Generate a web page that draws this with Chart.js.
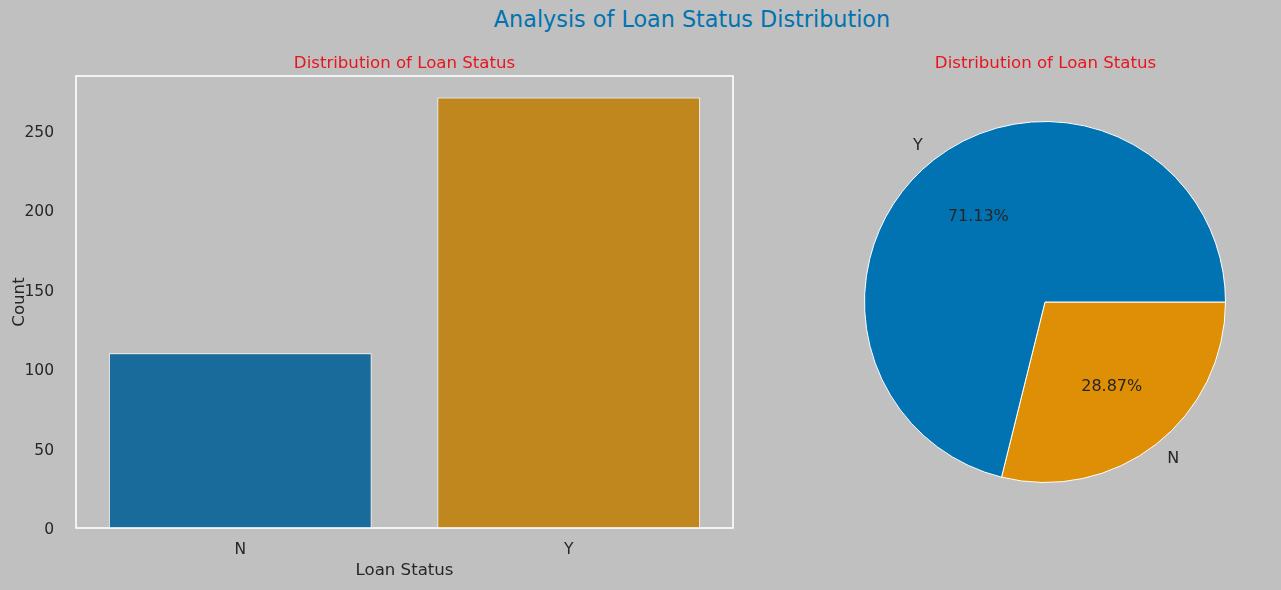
<!DOCTYPE html>
<html>
<head>
<meta charset="utf-8">
<script src="https://cdn.jsdelivr.net/npm/chart.js@4"></script>
<style>
  body { margin: 0; background: #c0c0c0; width: 1281px; height: 590px; overflow: hidden; position: relative; font-family: "DejaVu Sans", sans-serif; }
  #suptitle { position: absolute; left: 442px; width: 500px; top: 6px; text-align: center; font-size: 22.3px; color: #0173b2; }
  #barWrap { position: absolute; left: 0; top: 40px; width: 760px; height: 550px; }
  #pieWrap { position: absolute; left: 780px; top: 40px; width: 501px; height: 550px; }
</style>
</head>
<body>
<div id="suptitle">Analysis of Loan Status Distribution</div>
<div id="barWrap"><canvas id="barChart" width="760" height="550"></canvas></div>
<div id="pieWrap"><canvas id="pieChart" width="501" height="550"></canvas></div>
<script>
// loan status counts
const categories = ["N", "Y"];
const counts = [110, 271];
const yTicks = [0, 50, 100, 150, 200, 250];

const barColors = ["#186b9b", "#c1871f"];
const pieColors = ["#de8f05", "#0173b2"];   // N, Y
const textColor = "#262626";
const subTitle = "Distribution of Loan Status";

// pie drawn clockwise from 3 o'clock, N first, so Y ends up on top like matplotlib
const pieLabels = categories.slice();
const pieValues = counts.slice();
const total = pieValues.reduce((a, b) => a + b, 0);

// draws subplot title + white frame around the plot area
const frameAndTitle = {
  id: "frameAndTitle",
  afterDraw(chart, args, opts) {
    const { ctx, chartArea } = chart;
    ctx.save();
    if (opts.frame) {
      ctx.strokeStyle = "#ffffff";
      ctx.lineWidth = 1.6;
      ctx.strokeRect(chartArea.left, chartArea.top, chartArea.right - chartArea.left, chartArea.bottom - chartArea.top);
    }
    ctx.fillStyle = "#e8141e";
    ctx.font = "16.6px 'DejaVu Sans'";
    ctx.textAlign = "center";
    ctx.textBaseline = "alphabetic";
    ctx.fillText(opts.text, opts.x, opts.y);
    ctx.restore();
  }
};

new Chart(document.getElementById("barChart"), {
  type: "bar",
  data: {
    labels: categories,
    datasets: [{
      data: counts,
      backgroundColor: barColors,
      borderColor: "#ffffff",
      borderWidth: 1,
      categoryPercentage: 0.8,
      barPercentage: 1.0
    }]
  },
  options: {
    responsive: false,
    animation: false,
    layout: { padding: { left: 0, top: 36, right: 27, bottom: 0 } },
    plugins: {
      legend: { display: false },
      tooltip: { enabled: false },
      frameAndTitle: { frame: true, text: subTitle, x: 404.5, y: 28 }
    },
    scales: {
      x: {
        grid: { display: false },
        border: { display: false },
        ticks: { color: textColor, font: { family: "DejaVu Sans", size: 15.5 }, padding: 5 },
        title: { display: true, text: "Loan Status", color: textColor, font: { family: "DejaVu Sans", size: 16.6 }, padding: { top: 2, bottom: 9 } },
        afterFit(scale) { scale.height = 62; }
      },
      y: {
        min: 0,
        max: Math.max(...counts) * 1.05,
        grid: { display: false },
        border: { display: false },
        ticks: {
          stepSize: 50,
          includeBounds: false,
          color: textColor,
          font: { family: "DejaVu Sans", size: 15.5 },
          padding: 14,
          labelOffset: 2,
          callback: (v) => (yTicks.includes(v) ? v : null)
        },
        title: { display: true, text: "Count", color: textColor, font: { family: "DejaVu Sans", size: 16.6 }, padding: { top: 10, bottom: 0 } },
        afterFit(scale) { scale.width = 76; }
      }
    }
  },
  plugins: [frameAndTitle]
});

// pie labels: category name outside, percentage inside
const pieText = {
  id: "pieText",
  afterDraw(chart) {
    const { ctx } = chart;
    const meta = chart.getDatasetMeta(0);
    ctx.save();
    ctx.fillStyle = textColor;
    ctx.font = "16px 'DejaVu Sans'";
    ctx.textBaseline = "middle";
    meta.data.forEach((arc, i) => {
      const mid = (arc.startAngle + arc.endAngle) / 2;
      const r = arc.outerRadius;
      const cx = Math.cos(mid), cy = Math.sin(mid);
      ctx.textAlign = cx < 0 ? "right" : "left";
      ctx.fillText(pieLabels[i], arc.x + cx * r * 1.1, arc.y + cy * r * 1.1);
      ctx.textAlign = "center";
      const pct = (pieValues[i] / total * 100).toFixed(2) + "%";
      ctx.fillText(pct, arc.x + cx * r * 0.6, arc.y + cy * r * 0.6);
    });
    ctx.restore();
  }
};

new Chart(document.getElementById("pieChart"), {
  type: "pie",
  data: {
    labels: pieLabels,
    datasets: [{
      data: pieValues,
      backgroundColor: pieColors,
      borderColor: "#ffffff",
      borderWidth: 1
    }]
  },
  options: {
    responsive: false,
    animation: false,
    rotation: 90,
    layout: { padding: { left: 84, right: 55, top: 81, bottom: 107 } },
    plugins: {
      legend: { display: false },
      tooltip: { enabled: false },
      frameAndTitle: { frame: false, text: subTitle, x: 265.5, y: 28 }
    }
  },
  plugins: [frameAndTitle, pieText]
});
</script>
</body>
</html>
